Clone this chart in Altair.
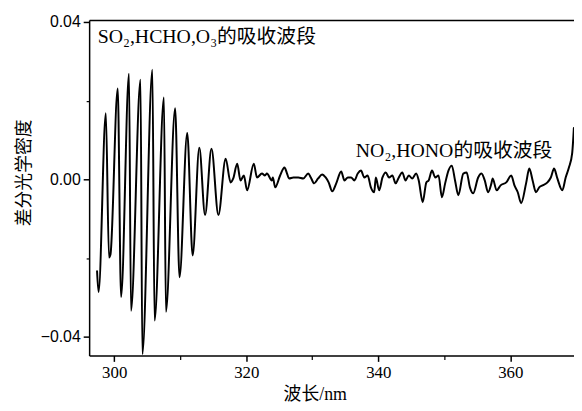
import altair as alt
import pandas as pd

# wavelength (nm) and differential optical density
wavelength = [
    297.40, 297.63, 298.73, 299.21, 299.43, 300.53, 301.04, 302.24, 302.54, 303.98,
    304.26, 305.78, 306.11, 307.53, 307.83, 309.23, 309.89, 311.06, 311.88, 312.89,
    313.76, 314.73, 315.78, 316.88, 317.63, 318.03, 318.63, 319.13, 319.64, 320.13,
    321.14, 321.63, 322.38, 322.83, 323.13, 323.88, 324.03, 324.38, 325.13, 325.79,
    326.13, 326.48, 327.14, 327.89, 328.64, 329.39, 329.78, 330.29, 330.89, 331.49,
    332.03, 332.48, 333.03, 333.63, 334.38, 334.88, 335.39, 335.88, 336.38, 336.89,
    337.38, 337.88, 338.39, 338.88, 339.38, 339.63, 340.13, 340.64, 341.13, 341.63,
    342.14, 342.63, 343.04, 343.64, 344.13, 344.63, 345.14, 345.74, 346.13, 346.73,
    347.28, 347.63, 348.14, 348.63, 349.13, 349.64, 350.13, 350.63, 351.14, 351.63,
    352.13, 352.88, 353.39, 353.88, 354.38, 355.13, 355.64, 356.13, 356.63, 357.14,
    357.33, 357.93, 358.53, 359.39, 360.14, 360.63, 361.13, 361.64, 362.39, 362.88,
    363.38, 363.89, 364.38, 364.88, 365.63, 366.14, 366.63, 367.13, 367.88, 368.39,
    368.88, 369.38, 369.63,
]
diff_od = [
    -0.02332, -0.02859, 0.01680, -0.01981, -0.01906, 0.02307, -0.02985, 0.02684, -0.03336, 0.02533,
    -0.04440, 0.02784, -0.03586, 0.02082, -0.03361, 0.01806, -0.02483, 0.01179, -0.01931, 0.00803,
    -0.00903, 0.00777, -0.00903, 0.00527, -0.00075, 0.00025, 0.00401, -0.00025, 0.00100, -0.00276,
    0.00401, 0.00050, 0.00150, 0.00100, 0.00150, -0.00025, 0.00050, -0.00201, 0.00100, 0.00301,
    0.00176, 0.00025, 0.00050, 0.00050, 0.00025, 0.00150, 0.00050, -0.00100, 0.00025, 0.00125,
    0.00050, -0.00075, -0.00301, -0.00100, 0.00201, -0.00025, 0.00050, 0.00050, -0.00025, 0.00150,
    0.00226, 0.00050, 0.00100, -0.00201, -0.00326, 0.00050, -0.00276, 0.00050, 0.00176, 0.00050,
    0.00100, -0.00100, 0.00025, 0.00176, -0.00025, 0.00100, 0.00025, 0.00150, -0.00025, -0.00577,
    -0.00075, -0.00025, 0.00226, 0.00050, 0.00100, -0.00451, -0.00100, 0.00226, 0.00351, -0.00025,
    -0.00401, 0.00150, 0.00176, -0.00201, -0.00351, 0.00050, 0.00150, -0.00025, -0.00326, -0.00100,
    0.00025, -0.00276, -0.00150, -0.00075, 0.00100, -0.00150, -0.00326, -0.00602, -0.00100, 0.00276,
    -0.00025, -0.00326, -0.00201, -0.00150, -0.00075, 0.00050, 0.00276, 0.00025, -0.00276, 0.00050,
    0.00301, 0.00677, 0.01304,
]

x_ticks = [300, 320, 340, 360]
x_minor = [310, 330, 350]
y_ticks = [-0.04, 0.0, 0.04]
y_minor = [-0.02, 0.02]

label_text = ["SO₂,HCHO,O₃的吸收波段", "NO₂,HONO的吸收波段"]
label_wl = [297.5, 336.6]
label_od = [0.0362, 0.0073]

df = pd.DataFrame({"wl": wavelength, "od": diff_od})
lab = pd.DataFrame({"wl": label_wl, "od": label_od, "text": label_text})

xs = alt.Scale(domain=[296.2, 369.65], nice=False, zero=False)
ys = alt.Scale(domain=[-0.0447, 0.0405], nice=False, zero=False)

SERIF = "Liberation Serif, Noto Sans CJK SC"

major_x = alt.Axis(
    values=x_ticks, format="d", title="波长/nm", orient="bottom", grid=False,
    domainColor="black", domainWidth=1.5, tickColor="black", tickWidth=1.5, tickSize=6,
    labelFont="Liberation Serif", labelFontSize=17, labelColor="black", labelPadding=3,
    titleFont=SERIF, titleFontSize=18, titleFontWeight="normal", titleColor="black",
    titleX=228, titleY=31,
)
major_y = alt.Axis(
    values=y_ticks, format=".2f", title="差分光学密度", orient="left", grid=False,
    domainColor="black", domainWidth=1.5, tickColor="black", tickWidth=1.5, tickSize=6,
    labelFont="Liberation Sans", labelFontSize=16, labelColor="black", labelPadding=3,
    titleFont="Noto Sans CJK SC", titleFontSize=18, titleFontWeight="normal", titleColor="black",
    titleX=-56, titleY=154,
)
minor_x = alt.Axis(
    values=x_minor, labels=False, title="", orient="bottom", grid=False, domain=False,
    tickColor="black", tickWidth=1.2, tickSize=4,
)
minor_y = alt.Axis(
    values=y_minor, labels=False, title="", orient="left", grid=False, domain=False,
    tickColor="black", tickWidth=1.2, tickSize=3,
)
top_x = alt.Axis(
    values=x_ticks, labels=False, ticks=False, title="", orient="top", grid=False,
    domain=True, domainColor="black", domainWidth=1.5,
)

line = alt.Chart(df).mark_line(
    color="black", strokeWidth=2, strokeJoin="round", strokeCap="round",
    interpolate="monotone", clip=True
).encode(
    x=alt.X("wl:Q", scale=xs, axis=major_x),
    y=alt.Y("od:Q", scale=ys, axis=major_y),
)

minor = alt.Chart(df).mark_point(opacity=0).encode(
    x=alt.X("wl:Q", scale=xs, axis=minor_x),
    y=alt.Y("od:Q", scale=ys, axis=minor_y),
)

text = alt.Chart(lab).mark_text(
    align="left", baseline="middle", font=SERIF, fontSize=20, color="black"
).encode(
    x=alt.X("wl:Q", scale=xs, axis=top_x),
    y=alt.Y("od:Q", scale=ys, axis=None),
    text="text:N",
)

chart = alt.layer(line, minor, text).resolve_axis(
    x="independent", y="independent"
).properties(
    width=490, height=339,
    autosize=alt.AutoSizeParams(type="none"),
    padding={"left": 82, "top": 10, "right": 0, "bottom": 50},
    background="white",
).configure_view(strokeWidth=0)

chart.save("out.html", embed_options={"renderer": "svg", "actions": False})
